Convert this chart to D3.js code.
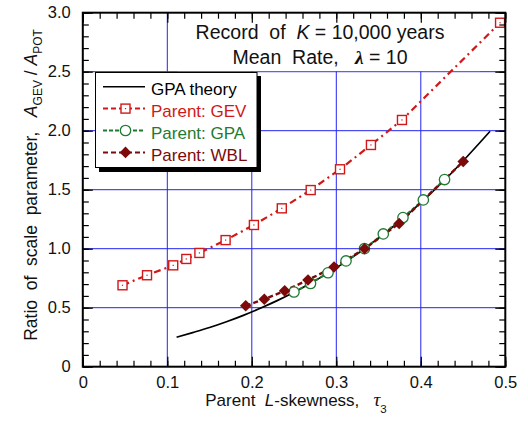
<!DOCTYPE html>
<html>
<head>
<meta charset="utf-8">
<script src="https://cdn.jsdelivr.net/npm/d3@7"></script>
<style>
  html, body { margin: 0; padding: 0; background: #fff; }
  svg { display: block; font-family: "Liberation Sans", Arial, sans-serif; }
  text { white-space: pre; }
</style>
</head>
<body>
<svg id="chart" width="528" height="430"></svg>
<script>
// GPA theory curve: ratio of scale parameters vs parent L-skewness
const theoryTau   = [0.111, 0.13, 0.15, 0.17, 0.19, 0.21, 0.23, 0.25, 0.27, 0.29, 0.31, 0.33, 0.35, 0.37, 0.39, 0.41, 0.43, 0.45, 0.47, 0.482];
const theoryRatio = [0.250, 0.289, 0.332, 0.381, 0.435, 0.495, 0.560, 0.631, 0.709, 0.793, 0.884, 0.983, 1.089, 1.203, 1.325, 1.456, 1.595, 1.743, 1.900, 1.995];

// Simulated records, parent GEV
const gevTau   = [0.047, 0.076, 0.107, 0.1225, 0.138, 0.169, 0.2025, 0.2355, 0.2697, 0.3044, 0.341, 0.3777, 0.4938];
const gevRatio = [0.690, 0.775, 0.859, 0.913, 0.964, 1.073, 1.201, 1.342, 1.497, 1.673, 1.879, 2.091, 2.915];

// Simulated records, parent GPA
const gpaTau   = [0.2499, 0.2695, 0.2902, 0.3115, 0.3333, 0.3556, 0.3789, 0.4030, 0.4281];
const gpaRatio = [0.633, 0.705, 0.796, 0.896, 1.000, 1.125, 1.264, 1.413, 1.586];

// Simulated records, parent Weibull
const wblTau   = [0.1928, 0.2148, 0.2389, 0.2665, 0.2973, 0.3334, 0.3744, 0.4502];
const wblRatio = [0.517, 0.572, 0.643, 0.735, 0.845, 0.999, 1.214, 1.739];

// Axis ticks
const xMajor = [0, 0.1, 0.2, 0.3, 0.4, 0.5];
const xTickLabels = ["0", "0.1", "0.2", "0.3", "0.4", "0.5"];
const yMajor = [0, 0.5, 1.0, 1.5, 2.0, 2.5, 3.0];
const yTickLabels = ["0", "0.5", "1.0", "1.5", "2.0", "2.5", "3.0"];
const xGrid = [0.1, 0.2, 0.3, 0.4];
const yGrid = [0.5, 1.0, 1.5, 2.0, 2.5];

const legendLabels = ["GPA theory", "Parent: GEV", "Parent: GPA", "Parent: WBL"];

const C_GEV = "#d01818", C_GPA = "#1f7a32", C_WBL = "#7d0a0a", C_GRID = "#2323f0";

const svg = d3.select("#chart");
const x = d3.scaleLinear().domain([0, 0.5]).range([82.8, 505.3]);
const y = d3.scaleLinear().domain([0, 3]).range([366.7, 12.7]);
const zip = (a, b) => a.map((v, i) => [v, b[i]]);

// grid
const grid = svg.append("g");
grid.selectAll(".gx").data(xGrid).join("line")
  .attr("x1", d => x(d)).attr("x2", d => x(d))
  .attr("y1", y(3)).attr("y2", y(0))
  .attr("stroke", C_GRID).attr("stroke-width", 1);
grid.selectAll(".gy").data(yGrid).join("line")
  .attr("y1", d => y(d)).attr("y2", d => y(d))
  .attr("x1", x(0)).attr("x2", x(0.5))
  .attr("stroke", C_GRID).attr("stroke-width", 1);

// title panel
svg.append("rect")
  .attr("x", x(0.112)).attr("y", y(3) + 1)
  .attr("width", x(0.47) - x(0.112)).attr("height", y(2.505) - y(3) - 1)
  .attr("fill", "#fff");
const title = svg.append("text").attr("x", 320).attr("y", 39)
  .attr("text-anchor", "middle").attr("font-size", 19.5).attr("fill", "#111");
title.append("tspan").text("Record  of  ");
title.append("tspan").attr("font-style", "italic").text("K");
title.append("tspan").text(" = 10,000 years");
const title2 = svg.append("text").attr("x", 320).attr("y", 64)
  .attr("text-anchor", "middle").attr("font-size", 19.5).attr("fill", "#111");
title2.append("tspan").text("Mean  Rate,   ");
title2.append("tspan").attr("font-style", "italic").attr("font-weight", "bold")
  .attr("font-family", "'Liberation Serif', serif").text("λ");
title2.append("tspan").text(" = 10");

// series lines
const line = d3.line().x(d => x(d[0])).y(d => y(d[1]));
svg.append("path").datum(zip(theoryTau, theoryRatio))
  .attr("d", line.curve(d3.curveMonotoneX)).attr("fill", "none")
  .attr("stroke", "#000").attr("stroke-width", 1.7);
line.curve(d3.curveLinear);
svg.append("path").datum(zip(gevTau, gevRatio)).attr("d", line)
  .attr("fill", "none").attr("stroke", C_GEV).attr("stroke-width", 2.2)
  .attr("stroke-dasharray", "7,4,2,4");
svg.append("path").datum(zip(gpaTau, gpaRatio)).attr("d", line)
  .attr("fill", "none").attr("stroke", C_GPA).attr("stroke-width", 2)
  .attr("stroke-dasharray", "4,2");
svg.append("path").datum(zip(wblTau, wblRatio)).attr("d", line)
  .attr("fill", "none").attr("stroke", C_WBL).attr("stroke-width", 2.4)
  .attr("stroke-dasharray", "5,3");

// markers
function squareMark(g, px, py) {
  g.append("rect").attr("x", px - 4.5).attr("y", py - 4.5).attr("width", 9).attr("height", 9)
    .attr("fill", "#fff").attr("stroke", C_GEV).attr("stroke-width", 1.4);
  g.append("rect").attr("x", px - 0.6).attr("y", py - 0.6).attr("width", 1.2).attr("height", 1.2)
    .attr("fill", C_GEV);
}
function circleMark(g, px, py) {
  g.append("circle").attr("cx", px).attr("cy", py).attr("r", 5.2)
    .attr("fill", "#fff").attr("stroke", C_GPA).attr("stroke-width", 1.3);
}
function diamondMark(g, px, py) {
  const r = 5.8;
  g.append("path").attr("d", `M${px},${py - r}L${px + r},${py}L${px},${py + r}L${px - r},${py}Z`)
    .attr("fill", C_WBL);
}
const marks = svg.append("g");
zip(gevTau, gevRatio).forEach(d => squareMark(marks, x(d[0]), y(d[1])));
zip(gpaTau, gpaRatio).forEach(d => circleMark(marks, x(d[0]), y(d[1])));
zip(wblTau, wblRatio).forEach(d => diamondMark(marks, x(d[0]), y(d[1])));

// legend
const lg = svg.append("g");
lg.append("rect").attr("x", 99).attr("y", 76).attr("width", 162).attr("height", 96).attr("fill", "#000");
lg.append("rect").attr("x", 95.5).attr("y", 72.5).attr("width", 161.5).attr("height", 95)
  .attr("fill", "#fff").attr("stroke", "#000").attr("stroke-width", 1);
const rows = [
  { c: "#000", dash: null, w: 1.6, mk: null, tc: "#000" },
  { c: C_GEV, dash: "5,3", w: 2, mk: squareMark, tc: C_GEV },
  { c: C_GPA, dash: "4,2", w: 2, mk: circleMark, tc: C_GPA },
  { c: C_WBL, dash: "5,3", w: 2, mk: diamondMark, tc: C_WBL }
];
rows.forEach((r, i) => {
  const cy = 86.7 + i * 21.9;
  lg.append("line").attr("x1", 103).attr("x2", 145).attr("y1", cy).attr("y2", cy)
    .attr("stroke", r.c).attr("stroke-width", r.w).attr("stroke-dasharray", r.dash);
  if (r.mk) r.mk(lg, 125.5, cy);
  lg.append("text").attr("x", 151).attr("y", cy + 8.3).attr("font-size", 17)
    .attr("fill", r.tc).text(legendLabels[i]);
});

// axes with inward ticks on all four sides
const axes = svg.append("g").attr("font-size", 16);
const minorX = d3.range(0, 0.5001, 0.02);
const minorY = d3.range(0, 3.0001, 0.1);
function styleAxis(g) {
  g.select(".domain").remove();
  g.selectAll("line").attr("stroke", "#000").attr("stroke-width", 1.2);
  g.selectAll("text").attr("fill", "#111").attr("font-family", "'Liberation Sans', Arial, sans-serif").attr("font-size", 16.5);
}
axes.append("g").attr("transform", `translate(0,${y(0)})`)
  .call(d3.axisBottom(x).tickValues(minorX).tickSize(-6).tickFormat(""))
  .call(styleAxis);
axes.append("g").attr("transform", `translate(0,${y(0)})`)
  .call(d3.axisBottom(x).tickValues(xMajor).tickSize(-10).tickPadding(10)
    .tickFormat((d, i) => xTickLabels[i]))
  .call(styleAxis);
axes.append("g").attr("transform", `translate(0,${y(3)})`)
  .call(d3.axisTop(x).tickValues(minorX).tickSize(-6).tickFormat(""))
  .call(styleAxis);
axes.append("g").attr("transform", `translate(0,${y(3)})`)
  .call(d3.axisTop(x).tickValues(xMajor).tickSize(-10).tickFormat(""))
  .call(styleAxis);
axes.append("g").attr("transform", `translate(${x(0)},0)`)
  .call(d3.axisLeft(y).tickValues(minorY).tickSize(-6).tickFormat(""))
  .call(styleAxis);
axes.append("g").attr("transform", `translate(${x(0)},0)`)
  .call(d3.axisLeft(y).tickValues(yMajor).tickSize(-10).tickPadding(12)
    .tickFormat((d, i) => yTickLabels[i]))
  .call(styleAxis);
axes.append("g").attr("transform", `translate(${x(0.5)},0)`)
  .call(d3.axisRight(y).tickValues(minorY).tickSize(-6).tickFormat(""))
  .call(styleAxis);
axes.append("g").attr("transform", `translate(${x(0.5)},0)`)
  .call(d3.axisRight(y).tickValues(yMajor).tickSize(-10).tickFormat(""))
  .call(styleAxis);

// frame
svg.append("rect").attr("x", x(0)).attr("y", y(3))
  .attr("width", x(0.5) - x(0)).attr("height", y(0) - y(3))
  .attr("fill", "none").attr("stroke", "#000").attr("stroke-width", 2);

// axis titles
const xt = svg.append("text").attr("x", 296).attr("y", 406)
  .attr("text-anchor", "middle").attr("font-size", 17).attr("fill", "#111");
xt.append("tspan").text("Parent  ");
xt.append("tspan").attr("font-style", "italic").text("L");
xt.append("tspan").text("-skewness,   ");
xt.append("tspan").attr("font-style", "italic").attr("font-family", "'Liberation Serif', serif")
  .attr("font-size", 19).text("τ");
xt.append("tspan").attr("font-size", 11.5).attr("dy", 7).text("3");

const yt = svg.append("text").attr("transform", `translate(37,185) rotate(-90)`)
  .attr("text-anchor", "middle").attr("font-size", 17.5).attr("fill", "#111");
yt.append("tspan").text("Ratio  of  scale  parameter,   ");
yt.append("tspan").attr("font-style", "italic").text("A");
yt.append("tspan").attr("font-size", 12).attr("dy", 5).text("GEV");
yt.append("tspan").attr("dy", -5).text(" / ");
yt.append("tspan").attr("font-style", "italic").text("A");
yt.append("tspan").attr("font-size", 12).attr("dy", 5).text("POT");
</script>
</body>
</html>
